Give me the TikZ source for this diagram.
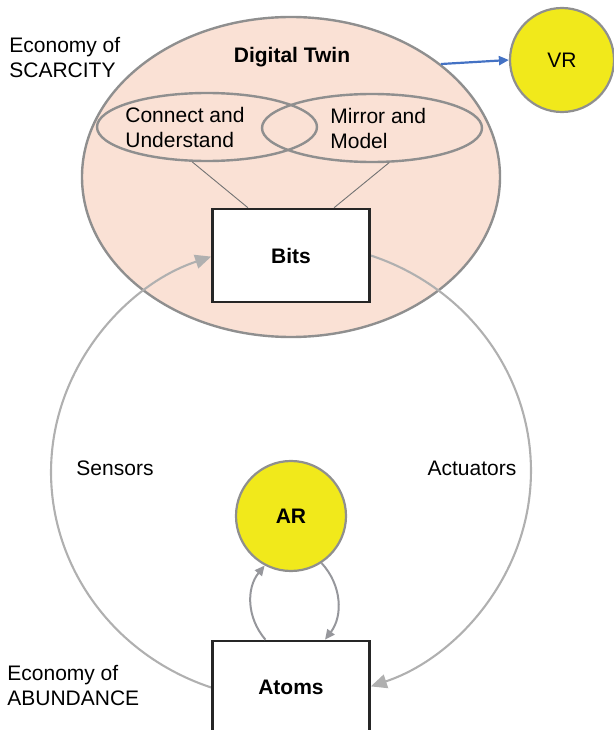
\documentclass[tikz,border=0pt]{standalone}
\usepackage{fontspec}
\setmainfont{Liberation Sans}
\usetikzlibrary{shapes.geometric,arrows.meta,calc}
\pgfdeclarelayer{bottom}
\pgfdeclarelayer{middle}
\pgfsetlayers{bottom,middle,main}
\definecolor{peach}{HTML}{FAE1D5}
\definecolor{ylw}{HTML}{F1E91B}
\definecolor{bordergray}{HTML}{8F8F8F}
\definecolor{loopgray}{HTML}{B0B0B0}
\definecolor{smallgray}{HTML}{96979C}
\definecolor{bluearrow}{HTML}{4472C4}
\begin{document}
\begin{tikzpicture}[x=0.5pt,y=0.5pt,
  font=\fontsize{10.5}{12.5}\selectfont,
  bigell/.style={ellipse, draw=bordergray, fill=peach, line width=1.2pt, minimum width=209pt, minimum height=160pt, inner sep=0pt},
  smallell/.style={ellipse, draw=bordergray, line width=1.2pt, minimum width=110pt, minimum height=34pt, inner sep=0pt},
  box/.style={rectangle, draw=black!85, fill=white, line width=1.3pt, minimum width=78.5pt, minimum height=46.5pt, inner sep=0pt, font=\fontsize{10.5}{12.5}\selectfont\bfseries},
  yellowcirc/.style={circle, draw=bordergray, fill=ylw, line width=1.1pt, inner sep=0pt},
  txt/.style={align=left, inner sep=0pt},
  loopline/.style={draw=loopgray, line width=1.05pt, -{Triangle[length=8pt,width=7pt]}},
  smallarrow/.style={draw=smallgray, line width=1pt, -{Triangle[length=5pt,width=4.5pt]}},
  thinline/.style={draw=gray!90!black, line width=0.45pt}]
\useasboundingbox (0,0) rectangle (614,730);

% boxes
\node[box] (atoms) at (291,42.5) {Atoms};
\node[box] (bits) at (291,474.5) {Bits};

% Digital twin ellipse
\begin{pgfonlayer}{bottom}
\node[bigell] (dt) at (291,553) {};
\end{pgfonlayer}
\node[font=\fontsize{10.5}{12.5}\selectfont\bfseries, inner sep=0pt] (dtlabel) at (292,673) {Digital Twin};

% loop arcs (sensors / actuators)
\begin{pgfonlayer}{middle}
\draw[loopline] (atoms.west) arc[start angle=250.9, end angle=109.1, x radius=238, y radius=228];
\draw[loopline] (bits.east) arc[start angle=70.9, end angle=-70.9, x radius=238, y radius=228];
\end{pgfonlayer}

% small ellipses
\node[smallell] (cu) at (207,603) {};
\node[smallell] (mm) at (372,602) {};
\node[txt, anchor=west] (cutext) at (125,603) {Connect and\\Understand};
\node[txt, anchor=west] (mmtext) at (330,602) {Mirror and\\Model};

% thin lines
\draw[thinline] (cu.247.5) -- ($(bits.north west)!0.23!(bits.north east)$);
\draw[thinline] (mm.296.6) -- ($(bits.north west)!0.77!(bits.north east)$);

% VR
\node[yellowcirc, minimum size=52pt] (vr) at (562,670) {VR};
\draw[line width=1.1pt, draw=bluearrow, -{Triangle[length=5pt,width=4.5pt]}] (dt.37) -- (vr.west);

% AR
\node[yellowcirc, minimum size=55pt, font=\fontsize{10.5}{12.5}\selectfont\bfseries] (ar) at (291,214) {AR};
\draw[smallarrow] ($(atoms.north west)!0.34!(atoms.north east)$) to[bend left=40] (ar.242.5);
\draw[smallarrow] (ar.303.4) to[bend left=40] ($(atoms.north west)!0.713!(atoms.north east)$);

% labels
\node[txt, anchor=west] (scarcity) at (9,672) {Economy of\\SCARCITY};
\node[txt, anchor=west] (abundance) at (7,44) {Economy of\\ABUNDANCE};
\node[inner sep=0pt] (sensors) at (115,262) {Sensors};
\node[inner sep=0pt] (actuators) at (472,262) {Actuators};
\end{tikzpicture}
\end{document}
